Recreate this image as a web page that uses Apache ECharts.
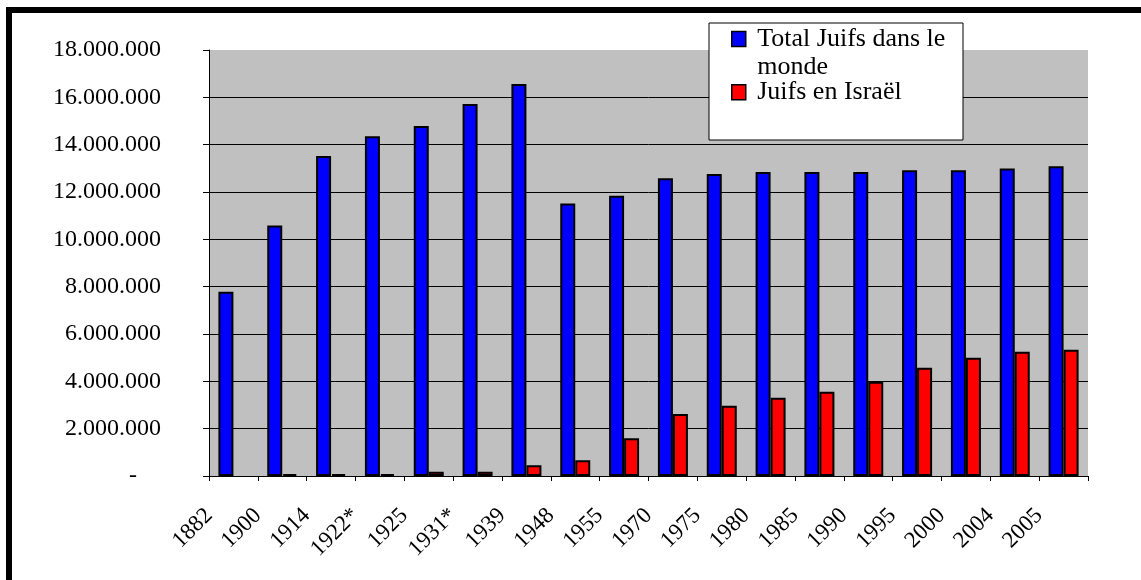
<!DOCTYPE html>
<html>
<head>
<meta charset="utf-8">
<script src="https://cdn.jsdelivr.net/npm/echarts@6/dist/echarts.min.js"></script>
<style>html,body{margin:0;padding:0;background:#fff;}#c{width:1141px;height:580px;}</style>
</head>
<body>
<div id="c"></div>
<script>
const categories = ['1882','1900','1914','1922*','1925','1931*','1939','1948','1955','1970','1975','1980','1985','1990','1995','2000','2004','2005'];
const totalWorld = [7780000,10580000,13520000,14360000,14790000,15720000,16560000,11510000,11840000,12580000,12760000,12840000,12840000,12840000,12920000,12920000,12990000,13090000];
const israel = [null,80000,80000,80000,175000,175000,450000,670000,1600000,2620000,2970000,3310000,3560000,3980000,4570000,5000000,5250000,5330000];
const seriesNames = ['Total Juifs dans le monde','Juifs en Israël'];
const legendLabels = [' \n Total Juifs dans le\n monde',' Juifs en Israël'];

const FONT = "'Liberation Serif','Times New Roman',serif";
function fmt(v){
  if (v === 0) return '-    ';
  return String(v).replace(/\B(?=(\d{3})+(?!\d))/g, '.');
}
const chart = echarts.init(document.getElementById('c'), null, {renderer:'canvas'});
chart.setOption({
  animation:false,
  backgroundColor:'#fff',
  textStyle:{fontFamily:FONT, color:'#000'},
  grid:{left:209, top:50, right:53, bottom:104, show:true, backgroundColor:'#c0c0c0', borderWidth:0},
  graphic:[
    {type:'rect', z:1, shape:{x:9, y:10, width:1200, height:700}, style:{fill:'none', stroke:'#000', lineWidth:6}},
    {type:'rect', z:3, shape:{x:709, y:23, width:254, height:117}, style:{fill:'#fff', stroke:'#000', lineWidth:1}}
  ],
  legend:{
    z:5, orient:'vertical', left:731, top:-3, padding:0, itemGap:-2.7,
    itemWidth:14, itemHeight:15, icon:'rect',
    itemStyle:{borderColor:'#000', borderWidth:1.5},
    data:seriesNames,
    formatter:function(n){ return legendLabels[seriesNames.indexOf(n)]; },
    textStyle:{fontFamily:FONT, fontSize:26, color:'#000', lineHeight:28}
  },
  xAxis:[
    {type:'category', data:categories, position:'bottom',
     axisLine:{lineStyle:{color:'#000', width:1}},
     axisTick:{show:true, length:5, lineStyle:{color:'#000'}},
     axisLabel:{show:false}, splitLine:{show:false}},
    {type:'value', position:'bottom', min:0, max:18, interval:1,
     axisLine:{show:false}, axisTick:{show:false}, splitLine:{show:false},
     axisLabel:{show:true, rotate:45, margin:36, fontFamily:FONT, fontSize:23, color:'#000',
       showMinLabel:true, showMaxLabel:true,
       formatter:function(v){ const i=Math.round(v); return (Math.abs(v-i)<1e-6 && i<categories.length) ? categories[i] : ''; }}}
  ],
  yAxis:{type:'value', min:0, max:18000000, interval:2000000,
    axisLine:{show:true, lineStyle:{color:'#000', width:1}},
    axisTick:{show:true, length:6, lineStyle:{color:'#000'}},
    axisLabel:{margin:48, fontFamily:FONT, fontSize:24, color:'#000', formatter:fmt},
    splitLine:{show:true, showMaxLine:false, lineStyle:{color:'#000', width:1}}
  },
  series:[
    {name:seriesNames[0], type:'bar', data:totalWorld, barWidth:15, barGap:'0%',
     itemStyle:{color:'#0000ff', borderColor:'#000', borderWidth:2}},
    {name:seriesNames[1], type:'bar', data:israel, barWidth:15, barGap:'0%',
     itemStyle:{color:'#ff0000', borderColor:'#000', borderWidth:2}}
  ]
});
</script>
</body>
</html>
